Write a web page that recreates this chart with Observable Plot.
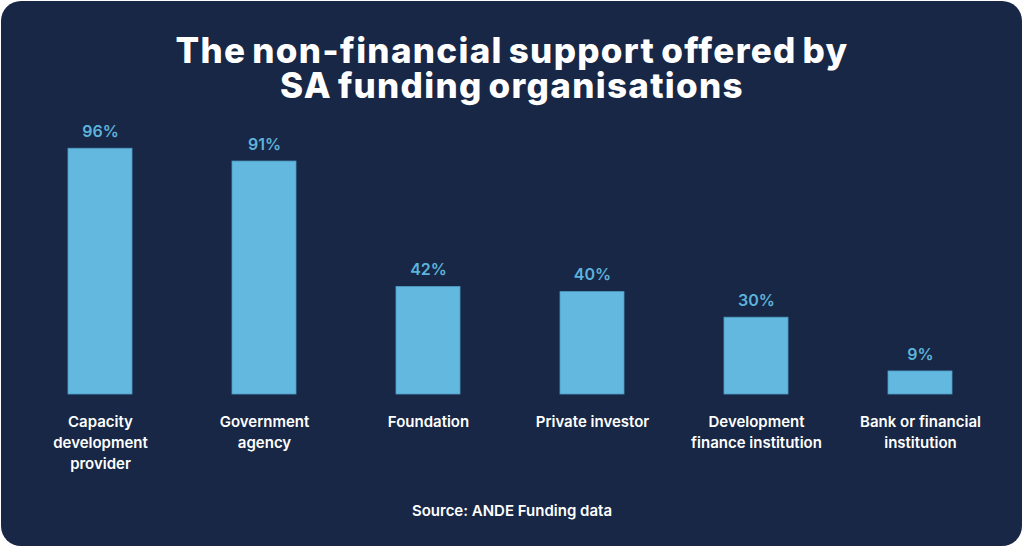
<!DOCTYPE html>
<html>
<head>
<meta charset="utf-8">
<script src="https://cdn.jsdelivr.net/npm/d3@7"></script>
<script src="https://cdn.jsdelivr.net/npm/@observablehq/plot@0.6"></script>
<style>
  html, body { margin: 0; padding: 0; background: #ffffff; width: 1024px; height: 548px; overflow: hidden; }
  #card { position: absolute; left: 1px; top: 1px; width: 1021px; height: 545px; border-radius: 20px; background: #172745; }
  .title { position: absolute; left: 0; width: 1024px; text-align: center; color: #ffffff;
    font-family: Inter, sans-serif; font-weight: 800; font-size: 35px; line-height: 35px; letter-spacing: 1.3px; word-spacing: -3px; }
  #chart { position: absolute; left: 0; top: 110px; }
  #caption { position: absolute; left: 0; top: 501px; width: 1024px; text-align: center; color: #ffffff;
    font-family: Inter, sans-serif; font-weight: 600; font-size: 15px; }
</style>
</head>
<body>
<div id="card"></div>
<div class="title" style="top:33px">The non-financial support offered by</div>
<div class="title" style="top:68px">SA funding organisations</div>
<div id="chart"></div>
<div id="caption">Source: ANDE Funding data</div>
<script>
const categories = [
  "Capacity\ndevelopment\nprovider",
  "Government\nagency",
  "Foundation",
  "Private investor",
  "Development\nfinance institution",
  "Bank or financial\ninstitution"
];
const values = [96, 91, 42, 40, 30, 9];

const data = categories.map((c, i) => ({category: c, value: values[i]}));

const chart = Plot.plot({
  width: 1024,
  height: 380,
  marginTop: 28,
  marginBottom: 96,
  marginLeft: 16,
  marginRight: 21,
  style: {background: "transparent", fontFamily: "Inter, sans-serif"},
  x: {domain: categories, paddingInner: 0.61, paddingOuter: 0.305, axis: null},
  y: {domain: [0, 100], axis: null},
  marks: [
    Plot.barY(data, {x: "category", y: "value", fill: "#62b8de", stroke: "#4f9cc4", strokeWidth: 0.8}),
    Plot.text(data, {x: "category", y: "value", text: d => d.value + "%", dy: -17,
      fill: "#5db3dc", fontSize: 16, fontWeight: 600}),
    Plot.text(data, {x: "category", y: 0, text: "category", dy: 18, lineAnchor: "top",
      lineHeight: 1.38, fill: "#ffffff", fontSize: 15, fontWeight: 600})
  ]
});
document.getElementById("chart").appendChild(chart);
</script>
</body>
</html>
